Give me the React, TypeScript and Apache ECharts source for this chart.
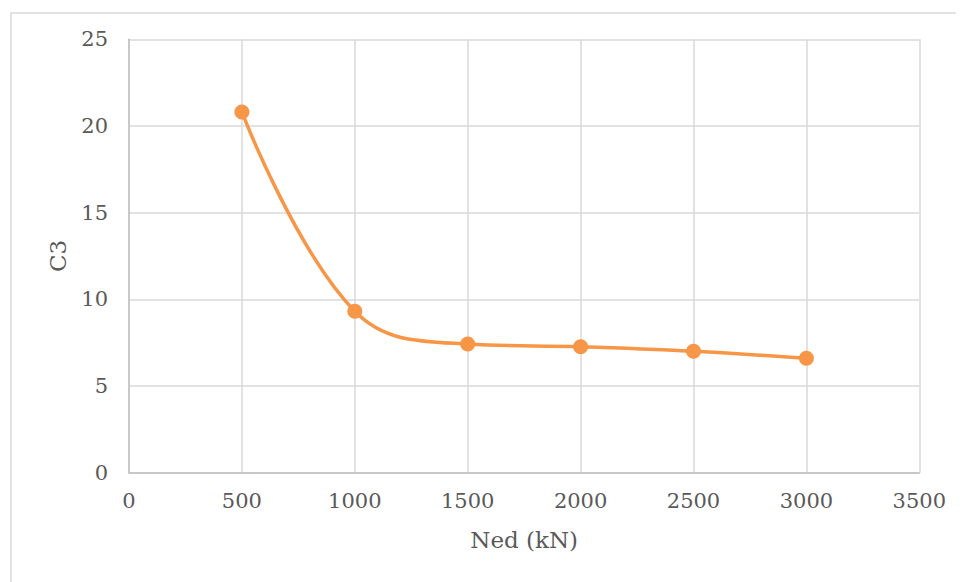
import React, { useEffect, useRef } from "react";
import * as echarts from "echarts";

// Axial load levels and the resulting C3 factor
const nedValues: number[] = [500, 1000, 1500, 2000, 2500, 3000];
const c3Values: number[] = [20.81, 9.31, 7.42, 7.27, 7.01, 6.6];

const xTicks = { min: 0, max: 3500, interval: 500 };
const yTicks = { min: 0, max: 25, interval: 5 };

const FONT = "'DejaVu Serif', 'Liberation Serif', serif";
const TEXT = "#595959";
const GRID = "#d9d9d9";
const ORANGE = "#F79646";

export default function App() {
  const ref = useRef<HTMLDivElement>(null);

  useEffect(() => {
    if (!ref.current) return;
    const chart = echarts.init(ref.current, undefined, { renderer: "svg" });
    chart.setOption({
      animation: false,
      backgroundColor: "#ffffff",
      graphic: [
        {
          type: "rect",
          left: 0.5,
          top: 2.5,
          shape: { width: 1200, height: 800 },
          style: { fill: "none", stroke: GRID, lineWidth: 1.5 },
          silent: true,
        },
      ],
      grid: { left: 121, top: 31.3, right: 44.7, bottom: 109.3 },
      xAxis: {
        type: "value",
        min: xTicks.min,
        max: xTicks.max,
        interval: xTicks.interval,
        name: "Ned (kN)",
        nameLocation: "middle",
        nameGap: 56,
        nameTextStyle: { fontFamily: FONT, fontSize: 23, color: TEXT },
        axisLine: { show: true, lineStyle: { color: "#bfbfbf", width: 1.5 } },
        axisTick: { show: false },
        axisLabel: {
          fontFamily: FONT,
          fontSize: 21,
          color: TEXT,
          margin: 18,
          formatter: (v: number) => String(v),
        },
        splitLine: { show: true, lineStyle: { color: GRID, width: 1.5 } },
      },
      yAxis: {
        type: "value",
        min: yTicks.min,
        max: yTicks.max,
        interval: yTicks.interval,
        name: "C3",
        nameLocation: "middle",
        nameGap: 60,
        nameTextStyle: { fontFamily: FONT, fontSize: 23, color: TEXT },
        axisLine: { show: true, lineStyle: { color: "#bfbfbf", width: 1.5 } },
        axisTick: { show: false },
        axisLabel: {
          fontFamily: FONT,
          fontSize: 21,
          color: TEXT,
          margin: 21,
          formatter: (v: number) => String(v),
        },
        splitLine: { show: true, lineStyle: { color: GRID, width: 1.5 } },
      },
      series: [
        {
          type: "line",
          data: nedValues.map((x, i) => [x, c3Values[i]]),
          smooth: 0.4,
          symbol: "circle",
          symbolSize: 15,
          lineStyle: { color: ORANGE, width: 3.5 },
          itemStyle: { color: ORANGE },
        },
      ],
    });
    return () => chart.dispose();
  }, []);

  return <div ref={ref} style={{ width: 956, height: 574 }} />;
}
